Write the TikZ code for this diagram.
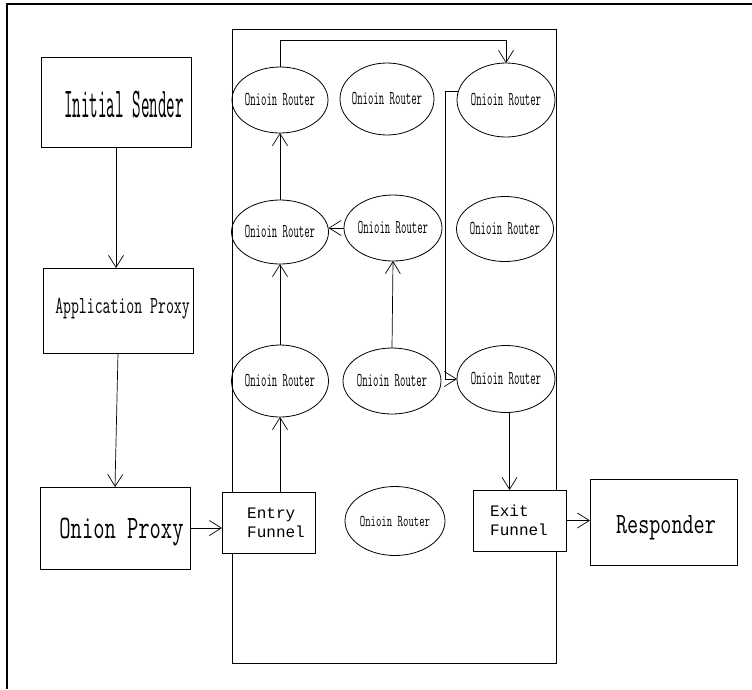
\documentclass[tikz,border=0pt]{standalone}
\usepackage{fontspec}
\usepackage{graphicx}
\usetikzlibrary{shapes.geometric,arrows.meta}
\newfontfamily\monof{Liberation Mono}
\newcommand{\ct}[3]{\scalebox{#1}[1]{\fontsize{#2}{#2}\selectfont\ttfamily #3}}
\newcommand{\cm}[3]{\scalebox{#1}[1]{\fontsize{#2}{#2}\selectfont\monof #3}}
\newcommand{\rtext}{\makebox[0pt]{\raisebox{-3pt}{\ct{0.535}{19.6}{Onioin Router}}}}
\begin{document}
\begin{tikzpicture}[x=1pt,y=-1pt,
  box/.style={draw,line width=0.9pt,fill=white,inner sep=0pt,outer sep=0pt},
  router/.style={draw,ellipse,line width=0.8pt,inner sep=0pt,outer sep=0pt},
  lbl/.style={inner sep=0pt,anchor=base},
  lblw/.style={inner sep=0pt,anchor=base west},
  conn/.style={line width=0.7pt,-{Straight Barb[length=12pt,width=15pt]}}]
\useasboundingbox (0,0) rectangle (752,689);
% outer frame (top and left edges)
\draw[line width=1.5pt] (7,689) coordinate (fbl) -- (7,4) coordinate (ftl) -- (752,4) coordinate (ftr);
% network area
\node[box,minimum width=324,minimum height=634] (net) at (394,346) {};
% boxes
\node[box,minimum width=150,minimum height=90] (IS) at (116,102) {};
\node[box,minimum width=150,minimum height=85] (AP) at (118,310.5) {};
\node[box,minimum width=150,minimum height=82] (OP) at (115,528) {};
\node[box,minimum width=93,minimum height=61] (EF) at (268.5,522.5) {};
\node[box,minimum width=93,minimum height=61] (XF) at (519.5,520.5) {};
\node[box,minimum width=147,minimum height=86] (RS) at (663.5,522) {};
% box texts
\node[lbl] (ISt) at (124,117) {\ct{0.39}{42.5}{Initial Sender}};
\node[lbl] (APt) at (122.5,313) {\ct{0.627}{24.5}{Application Proxy}};
\node[lbl] (OPt) at (121.5,538) {\ct{0.67}{32.7}{Onion Proxy}};
\node[lbl] (RSt) at (666,533) {\ct{0.73}{29.5}{Responder}};
\node[lblw] (EFt1) at (247,518) {\cm{1}{16}{Entry}};
\node[lblw] (EFt2) at (247,537) {\cm{1}{16}{Funnel}};
\node[lblw] (XFt1) at (490,516) {\cm{1}{16}{Exit}};
\node[lblw] (XFt2) at (490,535) {\cm{1}{16}{Funnel}};
% routers
\node[router,minimum width=96,minimum height=66] (r11) at (280,100) {\rtext};
\node[router,minimum width=94,minimum height=72] (r12) at (387,99) {\rtext};
\node[router,minimum width=98,minimum height=74] (r13) at (506,100) {\rtext};
\node[router,minimum width=97,minimum height=64] (r21) at (280,232) {\rtext};
\node[router,minimum width=98,minimum height=66] (r22) at (393,228) {\rtext};
\node[router,minimum width=97,minimum height=65] (r23) at (505,229) {\rtext};
\node[router,minimum width=97,minimum height=72] (r31) at (280,381) {\rtext};
\node[router,minimum width=98,minimum height=66] (r32) at (392,381) {\rtext};
\node[router,minimum width=98,minimum height=67] (r33) at (506,379) {\rtext};
\node[router,minimum width=100,minimum height=69] (r4) at (395,521) {\makebox[0pt]{\raisebox{-2pt}{\ct{0.64}{16.4}{Onioin Router}}}};
% connectors
\coordinate (loopy) at (0,40);
\coordinate (vx) at (445,0);
\draw[conn] (IS.south) -- (IS.south |- AP.north);
\draw[conn] (AP.south) -- (OP.north);
\draw[conn] (OP.east) -- (OP.east -| EF.west);
\draw[conn] (r31.south |- EF.north) -- (r31.south);
\draw[conn] (r31.north) -- (r21.south);
\draw[conn] (r21.north) -- (r11.south);
\draw[conn] (r11.north) -- (r11.north |- loopy) -- (r13.north |- loopy) -- (r13.north);
\draw[conn] (r22.west) -- (r22.west -| r21.east);
\draw[conn] (r32.north) -- (r22.south);
\draw[conn] (r13.170) -- (r13.170 -| vx) -- (vx |- r33.west) -- (r33.west);
\draw[conn] (r33.-84) -- (r33.-84 |- XF.north);
\draw[conn] (XF.east) -- (XF.east -| RS.west);
\end{tikzpicture}
\end{document}
